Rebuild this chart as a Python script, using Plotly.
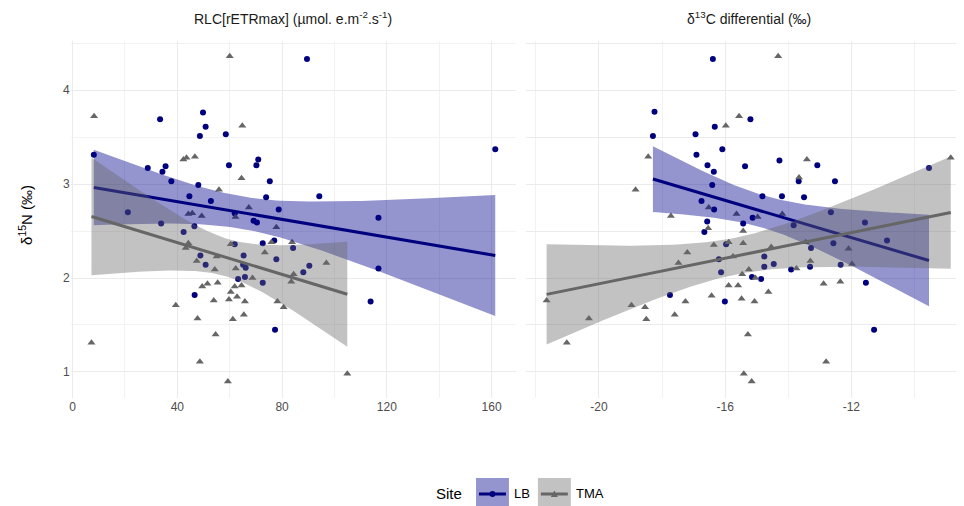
import numpy as np
import plotly.graph_objects as go

# The page body has an 8px margin, so the figure is 8px smaller and every
# reference pixel position is shifted by that offset.
W, H = 964, 506
OFF = 8
FIG_W, FIG_H = W - OFF, H - OFF

# ---------------- data ----------------
# Panel 1: x = RLC[rETRmax], y = d15N
lb_rlc_x = [8.1, 21.1, 28.7, 33.4, 33.8, 34.3, 35.5, 37.7, 42.4, 44.6, 46.5, 46.6, 48.0, 48.6, 48.8,
            49.8, 50.8, 50.8, 52.8, 58.5, 59.7, 61.9, 61.9, 63.2, 65.1, 65.3, 65.8, 66.1, 69.1, 70.2,
            70.4, 70.9, 72.6, 72.6, 73.9, 75.3, 77.0, 77.3, 77.8, 78.7, 84.2, 88.1, 89.5, 90.4, 94.2,
            113.8, 116.8, 116.8, 161.4]
lb_rlc_y = [3.31, 2.70, 3.17, 3.69, 2.58, 3.13, 3.19, 3.03, 2.49, 2.87, 2.55, 1.82, 2.99, 3.51, 2.24,
            3.76, 3.61, 2.14, 2.82, 3.53, 3.20, 2.69, 2.36, 1.99, 2.14, 2.24, 2.01, 2.11, 2.61, 3.20,
            2.59, 3.26, 2.37, 1.95, 2.86, 3.03, 2.40, 1.45, 2.20, 2.73, 2.32, 2.06, 4.33, 2.13, 2.87,
            1.75, 2.64, 2.10, 3.37]
tma_rlc_x = [7.2, 8.2, 39.4, 42.3, 43.2, 43.5, 44.2, 44.2, 45.7, 46.7, 47.4, 47.7, 48.6, 49.3, 49.5,
             51.5, 53.9, 54.3, 54.6, 55.0, 55.4, 55.9, 59.3, 59.7, 60.0, 60.4, 60.4, 61.2, 61.9, 62.2,
             62.3, 62.8, 64.5, 64.5, 64.8, 65.4, 65.8, 67.3, 68.7, 73.4, 75.9, 77.8, 78.2, 80.6, 83.5,
             83.8, 84.4, 96.9, 104.9]
tma_rlc_y = [1.31, 3.72, 1.71, 3.26, 2.32, 3.28, 2.37, 2.68, 2.69, 3.29, 2.18, 1.57, 1.11, 2.66, 1.91,
             1.94, 1.76, 2.09, 1.40, 2.23, 1.95, 2.94, 0.90, 1.77, 4.36, 2.36, 1.85, 1.56, 1.91, 2.65,
             2.10, 1.80, 1.92, 3.06, 3.62, 1.61, 1.75, 2.75, 2.00, 2.27, 2.38, 2.54, 1.75, 1.69, 1.96,
             2.38, 2.04, 2.16, 0.98]

# Panel 2: x = d13C differential, y = d15N
lb_d13c_x = [-18.29, -18.24, -17.75, -16.94, -16.91, -16.75, -16.66, -16.57, -16.56, -16.41, -16.39,
             -16.36, -16.35, -16.33, -16.20, -16.13, -16.09, -16.01, -15.97, -15.43, -15.37, -15.20,
             -15.15, -15.13, -14.86, -14.82, -14.76, -14.76, -14.46, -14.28, -14.20, -13.91, -13.83,
             -13.67, -13.50, -13.31, -13.28, -13.08, -12.65, -12.57, -12.52, -12.34, -11.57, -11.54,
             -11.28, -10.87, -9.54]
lb_d13c_y = [3.51, 3.77, 1.82, 3.53, 3.31, 2.82, 2.49, 2.60, 3.20, 2.99, 4.33,
             3.13, 2.73, 3.61, 2.20, 2.06, 3.37, 1.75, 2.36, 2.58, 3.19, 3.69,
             2.01, 2.64, 1.99, 2.87, 2.23, 2.12, 2.15, 3.25, 2.87, 2.09, 2.56,
             3.03, 2.86, 2.12, 2.32, 3.20, 2.70, 2.37, 3.03, 2.14, 2.59, 1.95,
             1.45, 2.40, 3.17]
tma_d13c_x = [-21.66, -21.02, -20.32, -18.97, -18.84, -18.54, -18.50, -18.44, -17.72, -17.60, -17.48,
              -17.26, -17.20, -16.54, -16.52, -16.43, -16.36, -15.98, -15.89, -15.89, -15.75, -15.64,
              -15.59, -15.56, -15.48, -15.46, -15.43, -15.43, -15.41, -15.28, -15.25, -15.16, -15.07,
              -15.04, -14.97, -14.63, -14.54, -14.32, -14.19, -13.74, -13.66, -13.45, -13.41, -13.30,
              -12.88, -12.80, -12.35, -12.09, -11.98, -8.85]
tma_d13c_y = [1.76, 1.31, 1.57, 1.71, 2.94, 1.69, 1.56, 3.29, 2.66, 1.61, 2.16,
              1.75, 2.27, 2.53, 2.75, 1.81, 2.35, 3.62, 2.38, 1.92, 2.23, 2.68,
              1.92, 3.72, 1.78, 2.04, 2.50, 2.37, 0.98, 1.40, 2.09, 0.90, 1.75,
              2.00, 2.65, 1.85, 2.33, 4.36, 2.68, 2.10, 3.07, 2.38, 3.26, 2.18,
              1.94, 1.11, 1.96, 2.31, 2.15, 3.28]

sites = ["LB", "TMA"]
panel_titles = ["RLC[rETRmax] (\u00b5mol. e.m<sup>-2</sup>.s<sup>-1</sup>)",
                "\u03b4<sup>13</sup>C differential (\u2030)"]
y_title = "\u03b4<sup>15</sup>N (\u2030)"
x1_ticks = [0, 40, 80, 120, 160]
x2_ticks = [-20, -16, -12]
y_ticks = [1, 2, 3, 4]

# ---------------- styles ----------------
FONT = "Liberation Sans, Arial, sans-serif"
STRIP_FONT = "Liberation Sans Narrow, Arial Narrow, Liberation Sans, sans-serif"
LB_COL = "#00007f"
LB_FILL = "rgba(0,0,139,0.42)"
TMA_COL = "#666666"
TMA_FILL = "rgba(102,102,102,0.40)"
GRID = "#ebebeb"
TICKC = "#4d4d4d"


def lm_band(x, y, n_grid=100, t=2.012):
    x = np.asarray(x, float)
    y = np.asarray(y, float)
    b, a = np.polyfit(x, y, 1)
    xs = np.linspace(x.min(), x.max(), n_grid)
    fit = a + b * xs
    n = len(x)
    s = np.sqrt(np.sum((y - (a + b * x)) ** 2) / (n - 2))
    sxx = np.sum((x - x.mean()) ** 2)
    se = s * np.sqrt(1.0 / n + (xs - x.mean()) ** 2 / sxx)
    return xs, fit, fit - t * se, fit + t * se


fig = go.Figure()

panels = [
    ("x", "y", [(lb_rlc_x, lb_rlc_y, "LB"), (tma_rlc_x, tma_rlc_y, "TMA")]),
    ("x2", "y2", [(lb_d13c_x, lb_d13c_y, "LB"), (tma_d13c_x, tma_d13c_y, "TMA")]),
]

for xa, ya, groups in panels:
    for gx, gy, site in groups:
        if site == "LB":
            mk = dict(symbol="circle", size=6, color=LB_COL)
        else:
            mk = dict(symbol="triangle-up", size=7, color=TMA_COL)
        fig.add_trace(go.Scatter(x=gx, y=gy, mode="markers", marker=mk, xaxis=xa, yaxis=ya,
                                 showlegend=False, hoverinfo="skip"))
    for gx, gy, site in groups:
        xs, fit, lo, hi = lm_band(gx, gy)
        fill = LB_FILL if site == "LB" else TMA_FILL
        col = LB_COL if site == "LB" else TMA_COL
        fig.add_trace(go.Scatter(x=np.concatenate([xs, xs[::-1]]), y=np.concatenate([hi, lo[::-1]]),
                                 mode="lines", fill="toself", fillcolor=fill, line=dict(width=0),
                                 xaxis=xa, yaxis=ya, showlegend=False, hoverinfo="skip"))
        fig.add_trace(go.Scatter(x=xs, y=fit, mode="lines", line=dict(color=col, width=3),
                                 xaxis=xa, yaxis=ya, showlegend=False, hoverinfo="skip"))


def px_x(p):
    return (p - OFF) / FIG_W


def px_y(p):
    return 1 - (p - OFF) / FIG_H


axis_common = dict(showline=False, zeroline=False, ticks="", showgrid=True, gridcolor=GRID, gridwidth=1.1,
                   tickfont=dict(family=FONT, size=12, color=TICKC))
minor_y = dict(tickvals=[1.5, 2.5, 3.5, 4.5], showgrid=True, gridcolor="#f2f2f2", gridwidth=0.6)

fig.update_layout(
    width=FIG_W, height=FIG_H, margin=dict(l=0, r=0, t=0, b=0),
    paper_bgcolor="white", plot_bgcolor="white", showlegend=False,
    font=dict(family=FONT),
    xaxis=dict(domain=[px_x(68.9), px_x(515)], range=[-0.7, 169.3], anchor="y",
               tickvals=x1_ticks, ticktext=[str(v) for v in x1_ticks],
               minor=dict(tickvals=[20, 60, 100, 140], showgrid=True, gridcolor="#f2f2f2", gridwidth=0.6),
               **axis_common),
    xaxis2=dict(domain=[px_x(525.5), 1.0], range=[-22.30, -8.43], anchor="y2",
                tickvals=x2_ticks, ticktext=["-20", "-16", "-12"],
                minor=dict(tickvals=[-22, -18, -14, -10], showgrid=True, gridcolor="#f2f2f2", gridwidth=0.6),
                **axis_common),
    yaxis=dict(domain=[px_y(397.6), px_y(40.9)], range=[0.7275, 4.5225], anchor="x",
               tickvals=y_ticks, ticktext=[str(v) for v in y_ticks], minor=minor_y, **axis_common),
    yaxis2=dict(domain=[px_y(397.6), px_y(40.9)], range=[0.7275, 4.5225], anchor="x2", matches="y",
                showticklabels=False, minor=minor_y, **axis_common),
)


def ann(text, x, y, size, color="#000000", family=FONT, xanchor="center", angle=0):
    return dict(text=text, x=px_x(x), y=px_y(y), xref="paper", yref="paper", showarrow=False,
                xanchor=xanchor, yanchor="middle", textangle=angle,
                font=dict(family=family, size=size, color=color))


annotations = [
    ann(panel_titles[0], (68.9 + 515) / 2, 18, 14, "#1a1a1a", STRIP_FONT),
    ann(panel_titles[1], (525.5 + 971) / 2, 18, 14, "#1a1a1a", STRIP_FONT),
    ann(y_title, 23, 215, 15, angle=-90),
    ann("Site", 448, 493, 15),
    ann(sites[0], 511, 493, 13, xanchor="left"),
    ann(sites[1], 573, 493, 13, xanchor="left"),
]
fig.update_layout(annotations=annotations)

shapes = []
for x0, fillc, col in [(475, LB_FILL, LB_COL), (537, TMA_FILL, TMA_COL)]:
    shapes.append(dict(type="rect", xref="paper", yref="paper", x0=px_x(x0), x1=px_x(x0 + 33),
                       y0=px_y(506), y1=px_y(478), fillcolor=fillc, line=dict(width=0), layer="below"))
    shapes.append(dict(type="line", xref="paper", yref="paper", x0=px_x(x0 + 3), x1=px_x(x0 + 30),
                       y0=px_y(494), y1=px_y(494), line=dict(color=col, width=3)))
cx = 491.5
shapes.append(dict(type="circle", xref="paper", yref="paper", x0=px_x(cx - 3), x1=px_x(cx + 3),
                   y0=px_y(497), y1=px_y(491), fillcolor=LB_COL, line=dict(width=0)))
tx = 553.5
path = "M {:.4f} {:.4f} L {:.4f} {:.4f} L {:.4f} {:.4f} Z".format(
    px_x(tx - 3.5), px_y(497), px_x(tx + 3.5), px_y(497), px_x(tx), px_y(490.5))
shapes.append(dict(type="path", xref="paper", yref="paper", path=path, fillcolor=TMA_COL, line=dict(width=0)))
fig.update_layout(shapes=shapes)

fig.write_html("out.html")
